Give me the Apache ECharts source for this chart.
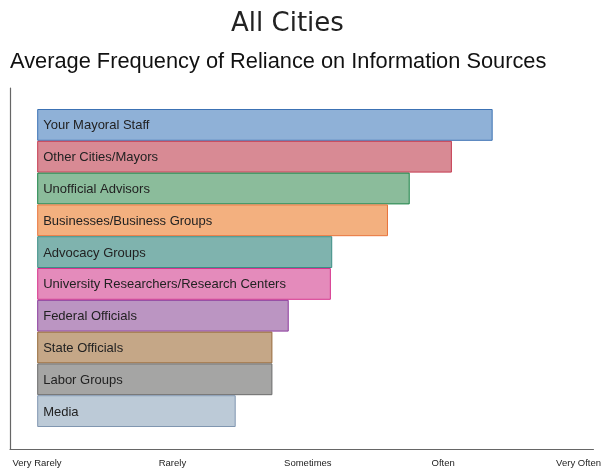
<!DOCTYPE html>
<html>
<head>
<meta charset="utf-8">
<script src="https://cdn.jsdelivr.net/npm/echarts@6/dist/echarts.min.js"></script>
<style>
html,body{margin:0;padding:0;background:#fff;}
#chart{width:604px;height:473px;}
</style>
</head>
<body>
<div id="chart"></div>
<script>
const categories = [
  "Your Mayoral Staff",
  "Other Cities/Mayors",
  "Unofficial Advisors",
  "Businesses/Business Groups",
  "Advocacy Groups",
  "University Researchers/Research Centers",
  "Federal Officials",
  "State Officials",
  "Labor Groups",
  "Media"
];
const values = [4.35, 4.05, 3.74, 3.58, 3.17, 3.16, 2.85, 2.73, 2.73, 2.46];
const tickValues = [1, 2, 3, 4, 5];
const tickLabels = ["Very Rarely", "Rarely", "Sometimes", "Often", "Very Often"];

const fillColors = ["#8fb1d7", "#d88a94", "#8bbc9b", "#f3b07f", "#7fb3ae", "#e48bbb", "#bb95c2", "#c5a787", "#a5a5a4", "#bccad7"];
const borderColors = ["#3c72b4", "#c43a4f", "#1e8449", "#e8733a", "#3c8e85", "#d6338c", "#8b3a9c", "#966a3b", "#6b6b6b", "#8096b0"];

const chart = echarts.init(document.getElementById('chart'), null, {renderer: 'canvas'});
const font = '"Liberation Sans", Arial, Helvetica, sans-serif';

chart.setOption({
  animation: false,
  backgroundColor: '#fff',
  title: [
    {
      text: 'All Cities',
      left: 226, top: 6,
      textStyle: {fontFamily: '"DejaVu Sans", sans-serif', fontSize: 26, fontWeight: 'normal', color: '#222'}
    },
    {
      text: 'Average Frequency of Reliance on Information Sources',
      left: 5, top: 46,
      textStyle: {fontFamily: font, fontSize: 21.8, fontWeight: 'normal', color: '#111'}
    }
  ],
  grid: [
    {left: 10, right: 8, top: 88, bottom: 24, containLabel: false},
    {left: 10, right: 8, top: 109, bottom: 46, containLabel: false}
  ],
  xAxis: [
    {
      gridIndex: 0, type: 'value', min: 0.8, max: 5.11,
      axisLine: {show: true, lineStyle: {color: '#666', width: 1.2}},
      axisTick: {show: false},
      splitLine: {show: false},
      axisLabel: {
        customValues: tickValues,
        margin: 9,
        fontFamily: font, fontSize: 9.5, color: '#222',
        formatter: function (v) {
          const i = tickValues.indexOf(Math.round(v));
          return i >= 0 ? tickLabels[i] : '';
        }
      }
    },
    {
      gridIndex: 1, type: 'value', min: 0.8, max: 5.11, startValue: 1,
      show: false, splitLine: {show: false}
    }
  ],
  yAxis: [
    {
      gridIndex: 0, type: 'value', min: 0, max: 1,
      axisLine: {show: true, lineStyle: {color: '#666', width: 1.2}},
      axisTick: {show: false}, axisLabel: {show: false}, splitLine: {show: false}
    },
    {
      gridIndex: 1, type: 'category', data: categories, inverse: true,
      show: false
    }
  ],
  series: [{
    type: 'bar',
    xAxisIndex: 1, yAxisIndex: 1,
    barCategoryGap: 0,
    barWidth: '100%',
    data: values.map(function (v, i) {
      return {
        value: v,
        itemStyle: {color: fillColors[i], borderColor: borderColors[i], borderWidth: 1}
      };
    }),
    label: {
      show: true,
      position: 'insideLeft',
      distance: 6,
      offset: [0, 1],
      formatter: function (p) { return p.name; },
      fontFamily: font, fontSize: 13, color: '#222'
    }
  }]
});
</script>
</body>
</html>
